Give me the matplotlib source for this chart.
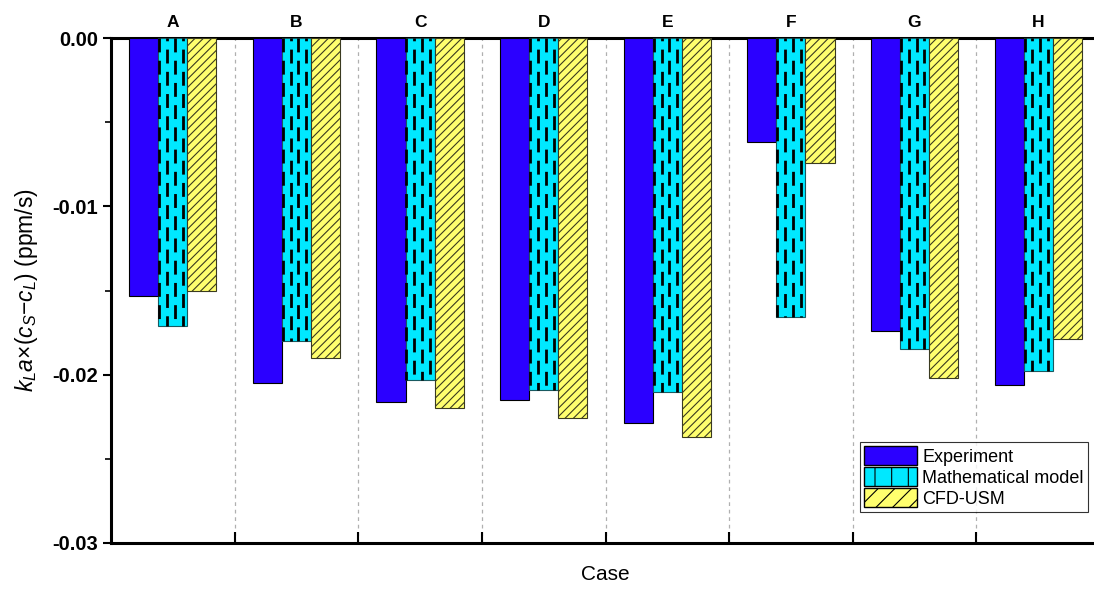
import numpy as np
import matplotlib
matplotlib.use('Agg')
import matplotlib.pyplot as plt
from matplotlib.patches import Patch

plt.rcParams['font.family'] = ['Liberation Sans', 'DejaVu Sans']
plt.rcParams['mathtext.fontset'] = 'custom'
plt.rcParams['mathtext.rm'] = 'Liberation Sans'
plt.rcParams['mathtext.it'] = 'Liberation Sans:italic'
plt.rcParams['axes.unicode_minus'] = False
plt.rcParams['hatch.linewidth'] = 0.8

cases = ['A', 'B', 'C', 'D', 'E', 'F', 'G', 'H']
experiment = [-0.0153, -0.0205, -0.0216, -0.0215, -0.0229, -0.0062, -0.0174, -0.0206]
math_model = [-0.0171, -0.0180, -0.0203, -0.0209, -0.0210, -0.0166, -0.0185, -0.0198]
cfd_usm = [-0.0150, -0.0190, -0.0220, -0.0226, -0.0237, -0.0074, -0.0202, -0.0179]

c_exp = '#2B00FF'
c_math = '#00E8FF'
c_cfd = '#FFFF6E'

fig = plt.figure(figsize=(10.94, 5.90), dpi=100)
ax = fig.add_axes([111 / 1094, 47 / 590, 989 / 1094, 505 / 590])

x = np.arange(len(cases))
w = 0.235

ax.bar(x - w, experiment, w, color=c_exp, edgecolor='black', linewidth=0.8, zorder=3)
ax.bar(x, math_model, w, color=c_math, edgecolor='#1a5a60', linewidth=0.8, zorder=3)
ax.bar(x + w, cfd_usm, w, facecolor=c_cfd, edgecolor='#3a3a20', hatch='////', linewidth=0.8, zorder=3)

# dashed vertical pattern on the model bars
for i, v in enumerate(math_model):
    left = x[i] - w / 2
    for k, frac in enumerate([0.03, 0.30, 0.57, 0.84]):
        off = 0 if k % 2 == 0 else 4
        ax.plot([left + frac * w] * 2, [0, v], color='black', lw=2.0,
                linestyle=(off, (5, 3)), zorder=4, solid_capstyle='butt',
                dash_capstyle='butt')

# group separators
for s in np.arange(0.5, len(cases) - 1, 1.0):
    ax.axvline(s, color='#b0b0b0', lw=0.9, linestyle=(0, (3, 3)), zorder=1)

ax.set_xlim(-0.5, len(cases) - 0.5)
ax.set_ylim(-0.03, 0.0)
ax.set_yticks([0.0, -0.01, -0.02, -0.03])
ax.set_yticks([-0.005, -0.015, -0.025], minor=True)
ax.set_yticklabels(['0.00', '-0.01', '-0.02', '-0.03'], fontweight='bold', fontsize=14.5)
ax.tick_params(axis='y', which='major', direction='out', length=6, width=1.5)
ax.tick_params(axis='y', which='minor', direction='out', length=4, width=1.2)

ax.set_xticks(np.arange(0.5, len(cases) - 1, 1.0))
ax.set_xticklabels([])
ax.tick_params(axis='x', direction='in', length=8, width=1.5)

top = ax.secondary_xaxis('top')
top.set_xticks(x)
top.set_xticklabels(cases, fontweight='bold', fontsize=12.5)
top.tick_params(length=0, pad=6)
top.spines['top'].set_visible(False)

for sp in ['left', 'bottom', 'top']:
    ax.spines[sp].set_linewidth(2.2)
ax.spines['right'].set_visible(False)

ax.set_xlabel('Case', fontsize=15, labelpad=12)
ax.set_ylabel(r'$k_La$×($c_S$−$c_L$) (ppm/s)', fontsize=16.5, labelpad=9)

handles = [
    Patch(facecolor=c_exp, edgecolor='black', label='Experiment'),
    Patch(facecolor=c_math, edgecolor='black', hatch='|', label='Mathematical model'),
    Patch(facecolor=c_cfd, edgecolor='black', hatch='//', label='CFD-USM'),
]
leg = ax.legend(handles=handles, loc='lower right', bbox_to_anchor=(0.9935, 0.05),
                fontsize=13, frameon=True, fancybox=False, edgecolor='black',
                handlelength=2.9, handleheight=1.2, handletextpad=0.3,
                labelspacing=0.1, borderpad=0.25, borderaxespad=0.3)
leg.get_frame().set_linewidth(0.8)
leg.set_zorder(5)

fig.savefig('out.png', dpi=100)
